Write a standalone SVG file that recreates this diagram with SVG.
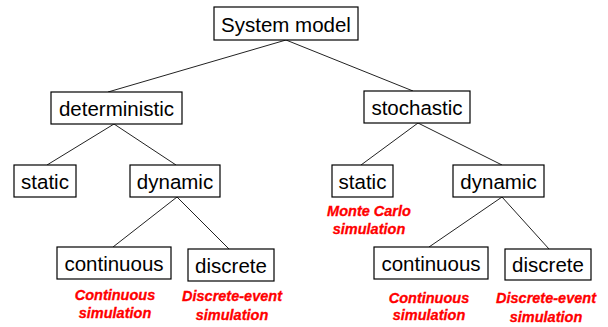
<svg xmlns="http://www.w3.org/2000/svg" width="608" height="327" viewBox="0 0 608 327">
<style>
.box{fill:#fff;stroke:#000;stroke-width:1.2}
.t{font-family:"Liberation Sans",Arial,sans-serif;font-size:20.5px;fill:#000;text-anchor:middle}
.r{font-family:"Liberation Sans",Arial,sans-serif;font-size:14.5px;font-weight:bold;font-style:italic;fill:#ff0000;stroke:#ff0000;stroke-width:0.3;text-anchor:middle}
.c{stroke:#222;stroke-width:1;fill:none}
</style>
<rect width="608" height="327" fill="#fff"/>
<g id="connectors">
<line class="c" x1="286" y1="40" x2="108" y2="92"/>
<line class="c" x1="286" y1="40" x2="413" y2="91"/>
<line class="c" x1="114" y1="124" x2="47" y2="165"/>
<line class="c" x1="114" y1="124" x2="176" y2="165"/>
<line class="c" x1="418" y1="123" x2="361" y2="165"/>
<line class="c" x1="418" y1="123" x2="502" y2="165"/>
<line class="c" x1="177" y1="197" x2="113" y2="247"/>
<line class="c" x1="177" y1="197" x2="229" y2="249"/>
<line class="c" x1="502" y1="197" x2="429" y2="247"/>
<line class="c" x1="502" y1="197" x2="549" y2="249"/>
</g>
<g id="system-model"><rect class="box" x="214" y="7" width="144" height="33"/><text class="t" x="286" y="32">System model</text></g>
<g id="deterministic"><rect class="box" x="51" y="92" width="131" height="32"/><text class="t" x="116.5" y="116">deterministic</text></g>
<g id="stochastic"><rect class="box" x="364" y="91" width="106" height="32"/><text class="t" x="417" y="115">stochastic</text></g>
<g id="static-det"><rect class="box" x="14" y="165" width="62" height="32"/><text class="t" x="45" y="189">static</text></g>
<g id="dynamic-det"><rect class="box" x="130" y="165" width="90" height="32"/><text class="t" x="175" y="189">dynamic</text></g>
<g id="static-sto"><rect class="box" x="332" y="165" width="61" height="32"/><text class="t" x="362.5" y="189">static</text></g>
<g id="dynamic-sto"><rect class="box" x="453" y="165" width="91" height="32"/><text class="t" x="498.5" y="189">dynamic</text></g>
<g id="continuous-det"><rect class="box" x="57" y="247" width="114" height="32"/><text class="t" x="114" y="271">continuous</text></g>
<g id="discrete-det"><rect class="box" x="188" y="249" width="86" height="32"/><text class="t" x="231" y="273">discrete</text></g>
<g id="continuous-sto"><rect class="box" x="374" y="247" width="114" height="32"/><text class="t" x="431" y="271">continuous</text></g>
<g id="discrete-sto"><rect class="box" x="505" y="249" width="86" height="31"/><text class="t" x="548" y="272">discrete</text></g>
<g id="labels">
<text class="r" x="369" y="216">Monte Carlo</text>
<text class="r" x="369" y="234">simulation</text>
<text class="r" x="115" y="300">Continuous</text>
<text class="r" x="115" y="318">simulation</text>
<text class="r" x="232" y="301">Discrete-event</text>
<text class="r" x="232" y="320">simulation</text>
<text class="r" x="429" y="303">Continuous</text>
<text class="r" x="429" y="320">simulation</text>
<text class="r" x="546" y="303">Discrete-event</text>
<text class="r" x="546" y="322">simulation</text>
</g>
</svg>
